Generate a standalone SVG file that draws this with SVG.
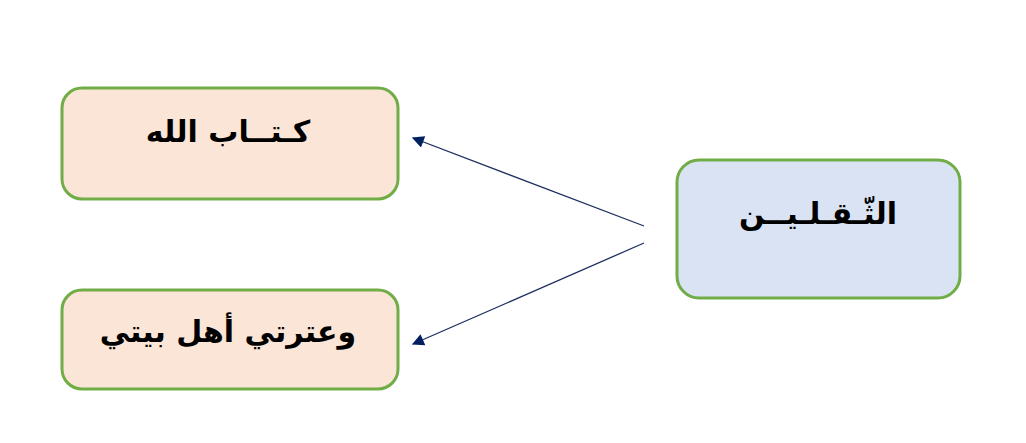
<svg xmlns="http://www.w3.org/2000/svg" width="1026" height="443" viewBox="0 0 1026 443">
<style>
.peach{fill:#FBE5D6;stroke:#70AD47;stroke-width:3}
.blue{fill:#DAE3F3;stroke:#70AD47;stroke-width:3}
.t{font-family:"DejaVu Sans",sans-serif;font-weight:bold;fill:#000;text-anchor:middle;direction:rtl}
.c{stroke:#1F2F5F;stroke-width:1.3;fill:none}
</style>
<defs>
<marker id="ah" viewBox="0 0 10 10" refX="9" refY="5" markerWidth="14" markerHeight="12" markerUnits="userSpaceOnUse" orient="auto">
<path d="M0,0 L10,5 L0,10 z" fill="#002060"/>
</marker>
</defs>
<rect width="1026" height="443" fill="#fff"/>
<g id="connectors">
<line class="c" x1="644" y1="226" x2="413" y2="138" marker-end="url(#ah)"/>
<line class="c" x1="644" y1="243" x2="413" y2="344" marker-end="url(#ah)"/>
</g>
<g id="node-kitab">
<rect class="peach" x="62" y="88" width="336" height="111" rx="20"/>
<text class="t" x="228" y="142" font-size="30">كـتــاب الله</text>
</g>
<g id="node-itrati">
<rect class="peach" x="62" y="290" width="336" height="99" rx="20"/>
<text class="t" x="228" y="342" font-size="30">وعترتي أهل بيتي</text>
</g>
<g id="node-thaqalayn">
<rect class="blue" x="677" y="160" width="283" height="138" rx="22"/>
<text class="t" x="818" y="224" font-size="30">الثّـقـلـيــن</text>
</g>
</svg>
